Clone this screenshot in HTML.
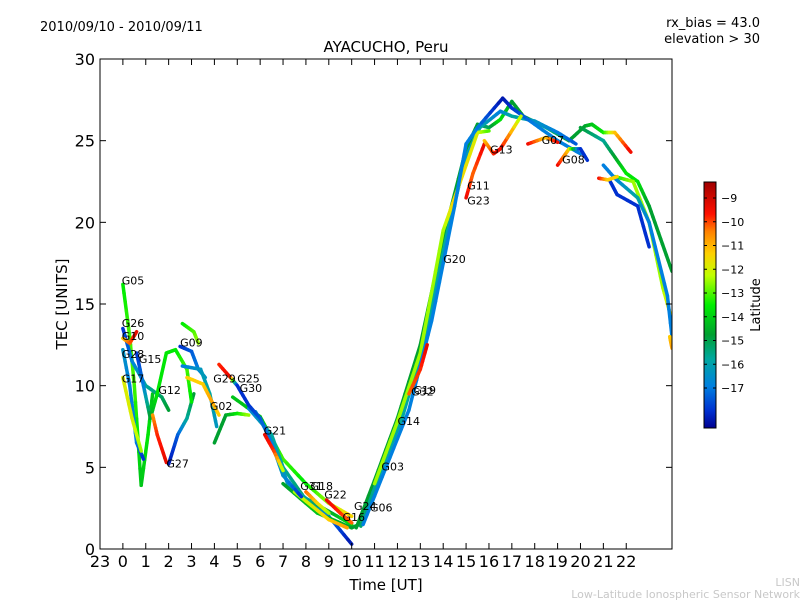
<!DOCTYPE html>
<html><head><meta charset="utf-8"><style>
body{margin:0;background:#fff;}
svg{display:block;font-family:"DejaVu Sans","Liberation Sans",sans-serif;}
</style></head><body>
<svg id="chart" width="800" height="600" viewBox="0 0 800 600">
<defs>
<linearGradient id="cbg" x1="0" y1="0" x2="0" y2="1">
<stop offset="0" stop-color="#a00000"/><stop offset="0.13" stop-color="#ff1000"/><stop offset="0.2" stop-color="#ff8000"/>
<stop offset="0.29" stop-color="#ffd000"/><stop offset="0.38" stop-color="#c0ff00"/><stop offset="0.5" stop-color="#00ee00"/>
<stop offset="0.62" stop-color="#00a030"/><stop offset="0.72" stop-color="#00a8a0"/><stop offset="0.83" stop-color="#0080e0"/>
<stop offset="0.93" stop-color="#0030d0"/><stop offset="1" stop-color="#000090"/>
</linearGradient>
<clipPath id="pc"><rect x="100" y="59" width="572" height="490"/></clipPath>
</defs>
<text x="40" y="31" font-size="13">2010/09/10 - 2010/09/11</text>
<text x="760" y="27" font-size="13" text-anchor="end">rx_bias = 43.0</text>
<text x="760" y="43" font-size="13" text-anchor="end">elevation &gt; 30</text>
<text x="386" y="52" font-size="15" text-anchor="middle">AYACUCHO, Peru</text>
<text x="386" y="590" font-size="15" text-anchor="middle">Time [UT]</text>
<text x="67" y="304" font-size="15" text-anchor="middle" transform="rotate(-90 67 304)">TEC [UNITS]</text>
<text x="800" y="586" font-size="11" fill="#c8c8c8" text-anchor="end">LISN</text>
<text x="800" y="598" font-size="11" fill="#c8c8c8" text-anchor="end">Low-Latitude Ionospheric Sensor Network</text>
<g id="marks" clip-path="url(#pc)"></g>
<g id="labels"></g>
<rect x="100" y="59" width="572" height="490" fill="none" stroke="#000"/>
<g id="axes"></g>
<rect x="704" y="182" width="12" height="246" fill="url(#cbg)" stroke="#000" stroke-width="1"/>
<g id="cbticks"></g>
<text x="760" y="305" font-size="13" text-anchor="middle" transform="rotate(-90 760 305)">Latitude</text>
</svg>
<script>
const xTickLabels=["23","0","1","2","3","4","5","6","7","8","9","10","11","12","13","14","15","16","17","18","19","20","21","22"];
const yTickValues=[0,5,10,15,20,25,30];
const cbTickValues=[-9,-10,-11,-12,-13,-14,-15,-16,-17];
// tracks: [hour, tec, latitude]
const trackG05=[[0,16.2,-13],[0.3,13,-12.5],[0.5,10,-12.5],[0.8,3.9,-13.5],[1.1,7,-13],[1.3,9.5,-13.5]];
const trackG26=[[0,13.5,-17],[0.4,11.5,-16],[1,10,-15],[1.7,9.3,-14.5],[2,8.5,-14]];
const trackG10=[[0,12.9,-11],[0.3,12.6,-10],[0.6,13.3,-9]];
const trackG28=[[0,12.2,-15.5],[0.3,10,-16],[0.6,6.5,-16],[0.9,5.5,-17]];
const trackG15=[[0.6,12,-17],[0.9,10,-16],[1.2,8,-14],[1.5,9.5,-13]];
const trackG17=[[0,10.5,-11.5],[0.4,8,-11.5],[0.8,6,-12]];
const trackG12=[[1.3,8.2,-10.5],[1.5,7,-9.5],[1.9,5.3,-9]];
const trackG27=[[2,5.2,-17.5],[2.4,7,-16.5],[2.8,8,-15],[3.1,9.5,-14]];
const trackArc=[[1.5,9.5,-13],[1.9,12,-13],[2.3,12.2,-13],[2.8,11,-12.5],[3,9,-13]];
const trackG09=[[2.5,12.4,-17],[3,12.1,-16.5],[3.3,11,-16],[3.6,10.5,-15.5]];
const trackLime=[[2.6,13.8,-13],[3.1,13.3,-12.5],[3.3,12.6,-12]];
const trackLb=[[2.6,11.2,-16],[3.4,11,-15.5],[3.8,9.5,-15],[4.1,7.5,-15.5]];
const trackG29=[[2.8,10.5,-11],[3.5,10.1,-11],[3.9,9,-10.5],[4.2,8.2,-11]];
const trackG25=[[4.2,11.3,-9.5],[4.7,10.5,-9],[5,10,-17],[5.5,8.8,-17],[6,8,-16.5],[6.5,6.5,-16],[7,4.5,-15.5],[7.8,3.2,-17]];
const trackGreenLow=[[4,6.5,-14],[4.5,8.2,-14],[5,8.3,-13],[5.5,8.2,-12]];
const trackA=[[4.8,9.3,-13.5],[6,8.1,-13.5],[6.5,6.8,-13],[7,5.5,-12.5],[8,4,-13],[9,2.8,-12],[10,2,-11]];
const trackB=[[5.5,8.6,-16],[6.5,7,-15],[7,5,-15],[8,3,-14.5],[9,2,-16],[10,0.3,-17.5]];
const trackC=[[5.8,8.4,-15.5],[6.6,6.4,-15],[7.2,4,-15.5],[8,3.1,-15],[9,2.3,-14],[10,1.5,-13]];
const trackG21=[[6.2,7,-9],[6.6,6,-9.5],[7,4.8,-12]];
const trackG18=[[8,3.5,-10],[8.5,2.8,-11],[9,2.2,-12]];
const trackG22=[[8.9,3,-9],[9.5,2.2,-9.5],[10,1.6,-10]];
const trackG16=[[7.5,3.5,-12],[9,1.8,-11],[9.8,1.3,-10.5]];
const trackGreen=[[7,4,-14],[8.5,2.2,-13.5],[10,1.3,-14],[10.5,1.6,-14]];
const trackRise=[[10.2,1.3,-14],[11,4.2,-14],[12,8,-14],[13,12.5,-14],[14,19,-14],[15,24.5,-14],[15.5,26,-14],[16,25.8,-14.5],[16.5,26.3,-13],[17,27.4,-14],[17.5,26.5,-14],[18.5,25.8,-15],[19.5,25,-14],[20.2,25.9,-14],[20.5,26,-13.5],[21,25.5,-13],[21.5,25.5,-11],[22.2,24.3,-9]];
const trackRise2=[[10.4,1.4,-14.5],[11.2,4.5,-15],[12.2,8,-15],[13.2,12.8,-15],[14.2,19.5,-15],[15,24,-15.5],[15.6,25.8,-15],[16.5,26.8,-16],[17,26.5,-15],[18,26.2,-15.5],[19,25.5,-16],[19.8,24.8,-16.5]];
const trackRiseBlue=[[10.5,1.5,-16],[11.5,5,-16],[12.5,8.5,-16],[13.5,14,-16],[14.5,21,-16],[15,24.8,-16],[15.5,25.8,-16],[16.6,27.6,-17.5],[17,27,-17],[18,26,-16],[19,25,-16],[20,24.2,-16]];
const trackRiseYel=[[11,4,-12],[12,7.8,-12],[13,12,-12],[14,19.5,-12],[14.5,21.5,-11],[15.5,25.5,-11.5],[16,25.6,-12.5]];
const trackG19=[[12.5,9.5,-10],[13,11,-9.5],[13.3,12.5,-9]];
const trackG11=[[15,21.5,-9],[15.3,23,-10],[15.8,24.8,-9]];
const trackG13=[[15.8,25,-11],[16.2,24.2,-9.5],[16.5,24.5,-9],[17.4,26.5,-12]];
const trackG07=[[17.7,24.8,-9],[18.5,25.2,-11],[19,24.9,-9]];
const trackG08=[[19,23.5,-9],[19.5,24.5,-11],[20,24.5,-17],[20.3,23.8,-17]];
const trackRight=[[20,25.8,-14],[21,25,-15],[21.5,24,-14],[22,23,-13],[22.5,22.5,-13],[23,21,-14],[23.5,19,-14],[24,17,-14]];
const trackRightLime=[[21.5,22.8,-13],[22.3,22.5,-12],[23,20,-12],[23.6,16,-12],[24,14,-11]];
const trackRightTeal=[[21,23.5,-16],[21.5,22.7,-16],[22.5,21.5,-15],[23,20,-16],[23.8,15.5,-16],[24,13,-16]];
const trackRightBlue=[[21.3,22.5,-17],[21.6,21.7,-17],[22.5,21,-17],[23,18.5,-17]];
const trackRightRed=[[20.8,22.7,-9],[21.2,22.6,-11],[21.6,22.8,-11]];
const trackEnd=[[23.9,13,-11],[24,12.3,-10.5]];
const tracks=[trackG05,trackG26,trackG10,trackG28,trackG15,trackG17,trackG12,trackG27,trackArc,trackG09,trackLime,trackLb,trackG29,trackGreenLow,trackA,trackB,trackC,trackGreen,trackG16,trackG25,trackG21,trackG18,trackG22,trackRise,trackRise2,trackRiseYel,trackRiseBlue,trackG19,trackG11,trackG13,trackG07,trackG08,trackRight,trackRightLime,trackRightTeal,trackRightBlue,trackRightRed,trackEnd];
const satNames=["G05","G26","G10","G28","G15","G17","G12","G27","G09","G29","G02","G25","G30","G21","G31","G18","G22","G16","G24","G06","G03","G14","G19","G32","G20","G11","G23","G13","G07","G08"];
const satHours=[-0.05,-0.05,-0.05,-0.05,0.7,-0.05,1.55,1.9,2.5,3.95,3.8,5.0,5.1,6.15,7.75,8.2,8.8,9.6,10.1,10.8,11.3,12.0,12.7,12.6,14.0,15.05,15.05,16.05,18.3,19.2];
const satTec=[16.2,13.6,12.8,11.7,11.4,10.2,9.5,5.0,12.4,10.2,8.5,10.2,9.6,7.0,3.6,3.6,3.1,1.7,2.4,2.3,4.8,7.6,9.5,9.4,17.5,22.0,21.1,24.2,24.8,23.6];

const X=h=>100+(h+1)*22.88, Y=v=>549-v*16.333;
const CB=l=>198+(-9-l)*23.75;
const stops=[[-8.3,[160,0,0]],[-9.3,[255,16,0]],[-10.2,[255,128,0]],[-11,[255,208,0]],[-11.8,[192,255,0]],[-12.9,[0,238,0]],[-14,[0,160,48]],[-15,[0,168,160]],[-16,[0,128,224]],[-17,[0,48,208]],[-17.9,[0,0,144]]];
function col(l){for(let i=0;i<stops.length-1;i++){const a=stops[i],b=stops[i+1];if(l<=a[0]&&l>=b[0]||i==stops.length-2){let t=(a[0]-l)/(a[0]-b[0]);t=Math.max(0,Math.min(1,t));return `rgb(${a[1].map((c,k)=>Math.round(c+(b[1][k]-c)*t)).join(',')})`;}}return 'rgb(160,0,0)';}
const NS='http://www.w3.org/2000/svg';
function mk(tag,attrs,parent){const e=document.createElementNS(NS,tag);for(const k in attrs)e.setAttribute(k,attrs[k]);parent.appendChild(e);return e;}
const marks=document.getElementById('marks');
tracks.forEach((tr,ti)=>{
  const g=mk('g',{},marks);
  
  
  for(let i=0;i<tr.length-1;i++){
    const a=tr[i],b=tr[i+1];const n=6;
    for(let s=0;s<n;s++){
      const t0=s/n,t1=(s+1)/n;
      const l=a[2]+(b[2]-a[2])*(t0+t1)/2;
      const ln=mk('line',{x1:X(a[0]+(b[0]-a[0])*t0),y1:Y(a[1]+(b[1]-a[1])*t0),x2:X(a[0]+(b[0]-a[0])*t1),y2:Y(a[1]+(b[1]-a[1])*t1),stroke:col(l),'stroke-width':3.5,'stroke-linecap':'round'},g);
      
      
    }
  }
});
const lab=document.getElementById('labels');
satNames.forEach((n,i)=>{
  const t=mk('text',{x:X(satHours[i]),y:Y(satTec[i]),'font-size':11},lab);
  t.textContent=n;
  
  
});
const ax=document.getElementById('axes');
xTickLabels.forEach((s,i)=>{
  const h=parseInt(s)==23?-1:parseInt(s);const x=X(h);
  mk('line',{x1:x,y1:549,x2:x,y2:543,stroke:'#000'},ax);
  mk('line',{x1:x,y1:59,x2:x,y2:65,stroke:'#000'},ax);
  const t=mk('text',{x:x,y:567,'font-size':16,'text-anchor':'middle'},ax);
  t.textContent=s;
  
  
});
yTickValues.forEach(v=>{
  const y=Y(v);
  mk('line',{x1:100,y1:y,x2:106,y2:y,stroke:'#000'},ax);
  mk('line',{x1:672,y1:y,x2:666,y2:y,stroke:'#000'},ax);
  const t=mk('text',{x:95,y:y+6,'font-size':16,'text-anchor':'end'},ax);
  t.textContent=v;
  
  
});
const cbt=document.getElementById('cbticks');
cbTickValues.forEach(v=>{
  const y=CB(v);
  mk('line',{x1:704,y1:y,x2:707,y2:y,stroke:'#000'},cbt);
  mk('line',{x1:716,y1:y,x2:713,y2:y,stroke:'#000'},cbt);
  const t=mk('text',{x:721,y:y+4,'font-size':11},cbt);
  t.textContent='\u2212'+Math.abs(v);
  
  
});
</script>
</body></html>
